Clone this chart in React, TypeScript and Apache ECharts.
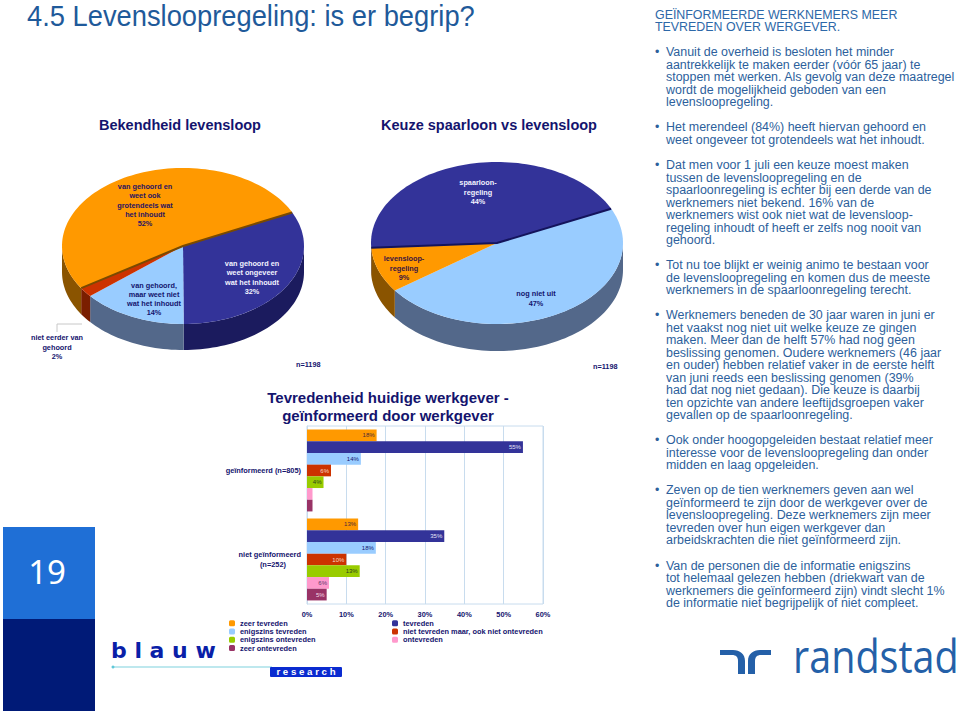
import React, { useEffect, useRef } from "react";
import * as echarts from "echarts";

const SANS = "Liberation Sans, Arial, sans-serif";
const NAVY = "#14146e";

const pageTitle = "4.5 Levensloopregeling: is er begrip?";
const sideHeading = "GEÏNFORMEERDE WERKNEMERS MEER\nTEVREDEN OVER WERGEVER.";
const bullets = [
  "Vanuit de overheid is besloten het minder\naantrekkelijk te maken eerder (vóór 65 jaar) te\nstoppen met werken. Als gevolg van deze maatregel\nwordt de mogelijkheid geboden van een\nlevensloopregeling.",
  "Het merendeel (84%) heeft hiervan gehoord en\nweet ongeveer tot grotendeels wat het inhoudt.",
  "Dat men voor 1 juli een keuze moest maken\ntussen de levensloopregeling en de\nspaarloonregeling is echter bij een derde van de\nwerknemers niet bekend. 16% van de\nwerknemers wist ook niet wat de levensloop-\nregeling inhoudt of heeft er zelfs nog nooit van\ngehoord.",
  "Tot nu toe blijkt er weinig animo te bestaan voor\nde levensloopregeling en komen dus de meeste\nwerknemers in de spaarloonregeling terecht.",
  "Werknemers beneden de 30 jaar waren in juni er\nhet vaakst nog niet uit welke keuze ze gingen\nmaken. Meer dan de helft 57% had nog geen\nbeslissing genomen. Oudere werknemers (46 jaar\nen ouder) hebben relatief vaker in de eerste helft\nvan juni reeds een beslissing genomen (39%\nhad dat nog niet gedaan). Die keuze is daarbij\nten opzichte van andere leeftijdsgroepen vaker\ngevallen op de spaarloonregeling.",
  "Ook onder hoogopgeleiden bestaat relatief meer\ninteresse voor de levensloopregeling dan onder\nmidden en laag opgeleiden.",
  "Zeven op de tien werknemers geven aan wel\ngeïnformeerd te zijn door de werkgever over de\nlevensloopregeling. Deze werknemers zijn meer\ntevreden over hun eigen werkgever dan\narbeidskrachten die niet geïnformeerd zijn.",
  "Van de personen die de informatie enigszins\ntot helemaal gelezen hebben (driekwart van de\nwerknemers die geïnformeerd zijn) vindt slecht 1%\nde informatie niet begrijpelijk of niet compleet.",
];
const bulletTops = [46, 121, 159, 259, 309, 434, 484, 559.5];

// Pie 1: Bekendheid levensloop
const pie1Title = "Bekendheid levensloop";
const pie1Names = ["van gehoord en\nweet ongeveer\nwat het inhoudt", "van gehoord,\nmaar weet niet\nwat het inhoudt", "niet eerder van\ngehoord", "van gehoord en\nweet ook\ngrotendeels wat\nhet inhoudt"];
const pie1Values = [32, 14, 2, 52];
const pie1Colors = ["#333399", "#99ccff", "#cc3300", "#ff9900"];
const pie1Sides = ["#1b1b5e", "#53688a", "#7a1e00", "#8a5400"];
const pie1TextColors = ["#f2f2ff", "#14146e", "#14146e", "#2a1460"];
const pie1LabelPos = [[252, 277.5], [154, 299], [57, 347], [145, 205]];

// Pie 2: Keuze spaarloon vs levensloop
const pie2Title = "Keuze spaarloon vs levensloop";
const pie2Names = ["nog niet uit", "levensloop-\nregeling", "spaarloon-\nregeling"];
const pie2Values = [47, 9, 44];
const pie2Colors = ["#99ccff", "#ff9900", "#333399"];
const pie2Sides = ["#53688a", "#8a5400", "#1b1b5e"];
const pie2TextColors = ["#14146e", "#3a1440", "#f2f2ff"];
const pie2LabelPos = [[536, 298.5], [404, 268], [478, 192]];

// Bars
const barTitle = "Tevredenheid huidige werkgever -\ngeïnformeerd door werkgever";
const barCategories = ["geïnformeerd (n=805)", "niet geïnformeerd\n(n=252)"];
const barTicks = [0, 10, 20, 30, 40, 50, 60];
const zeerTevreden = [17.7, 13];
const tevreden = [54.9, 34.9];
const enigszinsTevreden = [13.7, 17.5];
const nietNiet = [6.1, 10];
const enigszinsOntevreden = [4.2, 13.4];
const ontevreden = [1.4, 5.6];
const zeerOntevreden = [1.4, 5];
const barSeriesDefs: [string, number[], string, string][] = [
  ["zeer tevreden", zeerTevreden, "#ff9900", "#4a2a3a"],
  ["tevreden", tevreden, "#333399", "#e4e4f6"],
  ["enigszins tevreden", enigszinsTevreden, "#99ccff", "#14146e"],
  ["niet tevreden maar, ook niet ontevreden", nietNiet, "#cc3300", "#f6d8c8"],
  ["enigszins ontevreden", enigszinsOntevreden, "#99cc00", "#2a3a20"],
  ["ontevreden", ontevreden, "#ff99cc", "#5a3a6a"],
  ["zeer ontevreden", zeerOntevreden, "#993366", "#f4dce8"],
];
const legendLeft = ["zeer tevreden", "enigszins tevreden", "enigszins ontevreden", "zeer ontevreden"];
const legendRight = ["tevreden", "niet tevreden maar, ook niet ontevreden", "ontevreden"];

const LOGO_D =
  "M720 650H733C740 650 745 654 745 661V674H738V661C738 657 736 655 732 655H720Z" +
  "M771 650H760C753 650 748 654 748 661V674H755V661C755 657 757 655 761 655H771Z";

function pieSeries(
  name: string,
  names: string[],
  values: number[],
  colors: string[],
  sides: string[],
  textColors: string[],
  labelPos: number[][],
  geo: { cx: number; cy: number; rx: number; ry: number; depth: number; start: number; edge: string; edgeIndex: number }
) {
  const { cx, cy, rx, ry, depth, start, edge, edgeIndex } = geo;
  const total = values.reduce((a, b) => a + b, 0);
  const pt = (deg: number, dy = 0) => {
    const r = (deg * Math.PI) / 180;
    return [cx + rx * Math.cos(r), cy + ry * Math.sin(r) + dy];
  };
  const arc = (a: number, b: number, dy = 0) => {
    const n = Math.max(2, Math.ceil(Math.abs(b - a) / 2));
    const out: number[][] = [];
    for (let i = 0; i <= n; i++) out.push(pt(a + ((b - a) * i) / n, dy));
    return out;
  };
  return {
    type: "custom",
    name,
    coordinateSystem: "none",
    silent: true,
    data: values,
    renderItem: (params: any, api: any) => {
      const i = params.dataIndex;
      const v = api.value(0);
      let before = 0;
      for (let k = 0; k < i; k++) before += values[k];
      const a1 = start + (before / total) * 360;
      const a2 = a1 + (v / total) * 360;
      const children: any[] = [];
      const s1 = Math.max(a1, 0);
      const s2 = Math.min(a2, 180);
      if (s2 > s1) {
        const upper = arc(s1, s2);
        const lower = arc(s2, s1, depth);
        children.push({ type: "polygon", shape: { points: upper.concat(lower) }, style: { fill: sides[i] } });
      }
      children.push({
        type: "polygon",
        shape: { points: [[cx, cy]].concat(arc(a1, a2)) },
        style: { fill: colors[i] },
      });
      if (i === edgeIndex) {
        children.push({
          type: "polyline",
          shape: { points: [pt(a1), [cx, cy], pt(a2)] },
          style: { stroke: edge, lineWidth: 2, fill: "none" },
        });
      }
      children.push({
        type: "text",
        x: labelPos[i][0],
        y: labelPos[i][1],
        style: {
          text: `${names[i]}\n${Math.round(v)}%`,
          fill: textColors[i],
          font: `bold 7.3px ${SANS}`,
          lineHeight: 9.2,
          align: "center",
          verticalAlign: "middle",
        },
      });
      return { type: "group", children };
    },
  };
}

function txt(x: number, y: number, text: string, size: number, fill: string, extra: any = {}) {
  const { weight, family, scaleX, ...style } = extra;
  return {
    type: "text",
    x,
    y,
    scaleX: scaleX ?? 1,
    silent: true,
    style: {
      text,
      fill,
      font: `${weight || "normal"} ${size}px ${family || SANS}`,
      align: "left",
      verticalAlign: "middle",
      ...style,
    },
  };
}

export default function App() {
  const ref = useRef<HTMLDivElement>(null);
  useEffect(() => {
    document.body.style.margin = "0";
    if (!ref.current) return;
    echarts.graphic.registerShape("randstadLogo", echarts.graphic.extendPath(LOGO_D, {}));
    const chart = echarts.init(ref.current, undefined, { renderer: "svg" });
    const BODY = "#2d5f9c";
    const elements: any[] = [
      txt(27, 16, pageTitle, 29, "#1f5a9a", { scaleX: 0.942 }),
      txt(655, 21, sideHeading, 12.4, "#2d68a8", { lineHeight: 12.6 }),
      txt(180, 125, pie1Title, 14.5, NAVY, { weight: "bold", align: "center" }),
      txt(489, 125, pie2Title, 14.5, NAVY, { weight: "bold", align: "center" }),
      txt(388, 406, barTitle, 15, NAVY, { weight: "bold", align: "center", lineHeight: 18 }),
      txt(296, 364, "n=1198", 7.3, NAVY, { weight: "bold" }),
      txt(593, 366, "n=1198", 7.3, NAVY, { weight: "bold" }),
      { type: "polyline", silent: true, shape: { points: [[82, 324], [57, 324], [57, 332]] }, style: { stroke: "#c8c8c8", lineWidth: 1, fill: "none" } },
      { type: "rect", silent: true, shape: { x: 3, y: 527, width: 92, height: 92 }, style: { fill: "#1f6fd6" } },
      { type: "rect", silent: true, shape: { x: 3, y: 619, width: 92, height: 92 }, style: { fill: "#001a77" } },
      txt(47, 571, "19", 33, "#ffffff", { family: "Noto Sans", align: "center" }),
      txt(111, 650, "b l a u w", 22, "#0a1fa8", { family: "DejaVu Sans", weight: "bold", scaleX: 1.0 }),
      { type: "line", silent: true, shape: { x1: 113, y1: 667, x2: 272, y2: 667 }, style: { stroke: "#a8e0e8", lineWidth: 1.5 } },
      { type: "circle", silent: true, shape: { cx: 113, cy: 667, r: 1.5 }, style: { fill: "#60c8d8" } },
      { type: "rect", silent: true, shape: { x: 270, y: 667, width: 72, height: 10, r: 1 }, style: { fill: "#0a2bd0" } },
      txt(306, 672, "r e s e a r c h", 8.5, "#ffffff", { weight: "bold", align: "center", scaleX: 1.14 }),
      { type: "randstadLogo", silent: true, x: 0, y: 0, style: { fill: "#2460a8" } },
      txt(793, 655, "randstad", 46, "#2460a8", { family: "Open Sans", scaleX: 0.86 }),
    ];
    bullets.forEach((b, i) => {
      elements.push(txt(655, bulletTops[i] + 6, "•", 12.4, BODY));
      elements.push(txt(666, bulletTops[i], b, 12.45, BODY, { lineHeight: 12.5, verticalAlign: "top" }));
    });

    const barFont = { color: NAVY, fontWeight: "bold" as const, fontSize: 7.4, fontFamily: SANS };
    chart.setOption({
      animation: false,
      backgroundColor: "#ffffff",
      graphic: { elements },
      grid: { left: 307, right: 417, top: 426, bottom: 108, show: true, borderColor: "#c8dcee", borderWidth: 1 },
      xAxis: {
        type: "value",
        min: 0,
        max: barTicks[barTicks.length - 1],
        interval: barTicks[1] - barTicks[0],
        axisLine: { lineStyle: { color: "#c8dcee" } },
        axisTick: { show: false },
        splitLine: { show: true, lineStyle: { color: "#c8dcee" } },
        axisLabel: { ...barFont, margin: 7, formatter: "{value}%" },
      },
      yAxis: {
        type: "category",
        inverse: true,
        data: barCategories,
        axisLine: { lineStyle: { color: "#c8dcee" } },
        axisTick: { show: false },
        axisLabel: {
          ...barFont,
          margin: 6,
          lineHeight: 10,
          formatter: (v: string) => {
            const parts = v.split("\n");
            return parts.length > 1 ? `{a|${parts[0]}}\n{b|${parts[1]}}` : `{a|${v}}`;
          },
          rich: {
            a: { ...barFont, lineHeight: 10 },
            b: { ...barFont, lineHeight: 10, padding: [0, 15, 0, 0] },
          },
        },
      },
      legend: [
        { data: legendLeft, left: 229, top: 619, padding: 0, orient: "vertical", itemWidth: 6, itemHeight: 6, itemGap: 0, textStyle: { ...barFont, lineHeight: 8.3 } },
        { data: legendRight, left: 392, top: 619, padding: 0, orient: "vertical", itemWidth: 6, itemHeight: 6, itemGap: 0, textStyle: { ...barFont, lineHeight: 8.3 } },
      ],
      series: [
        pieSeries("Bekendheid", pie1Names, pie1Values, pie1Colors, pie1Sides, pie1TextColors, pie1LabelPos, {
          cx: 183, cy: 246, rx: 121, ry: 78, depth: 26, start: -25.5, edge: "#7a4a00", edgeIndex: 3,
        }),
        pieSeries("Keuze", pie2Names, pie2Values, pie2Colors, pie2Sides, pie2TextColors, pie2LabelPos, {
          cx: 497, cy: 243, rx: 126, ry: 81, depth: 27, start: -25, edge: "#14145c", edgeIndex: 2,
        }),
        ...barSeriesDefs.map(([name, data, color, labelColor]) => ({
          type: "bar",
          name,
          data,
          barGap: 0,
          barCategoryGap: "8%",
          itemStyle: { color },
          label: {
            show: true,
            position: "insideRight",
            distance: 2,
            color: labelColor,
            fontSize: 6,
            fontFamily: SANS,
            formatter: (p: any) => (p.value < 2 ? "" : `${Math.round(p.value)}%`),
          },
        })),
      ],
    });
    return () => chart.dispose();
  }, []);
  return <div ref={ref} style={{ width: 960, height: 712 }} />;
}
